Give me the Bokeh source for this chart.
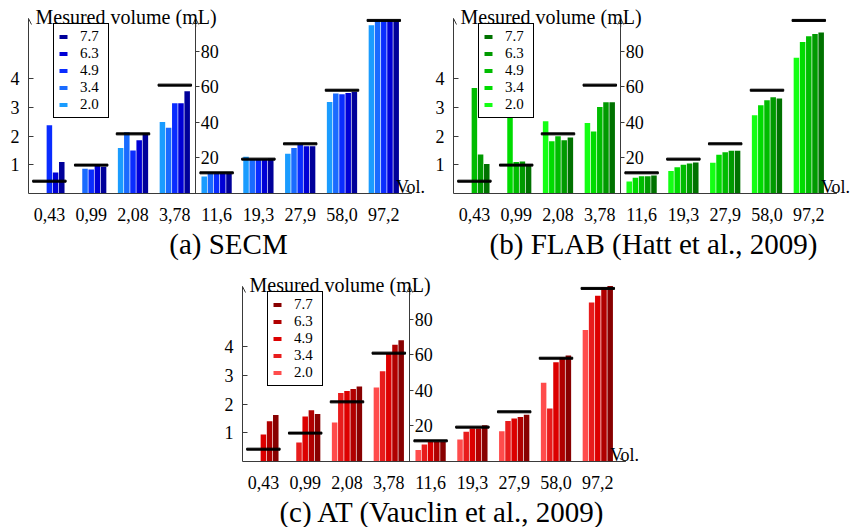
from bokeh.plotting import figure
from bokeh.models import (ColumnDataSource, Range1d, LinearAxis, FixedTicker, Legend,
                          LegendItem, Arrow, OpenHead, Label, Title, Spacer)
from bokeh.layouts import column, row
from bokeh.transform import dodge
from bokeh.embed import file_html
from bokeh.resources import INLINE

# ---------------- data ----------------
volumes = ["0,43", "0,99", "2,08", "3,78", "11,6", "19,3", "27,9", "58,0", "97,2"]
true_volume = [0.43, 0.99, 2.08, 3.78, 11.6, 19.3, 27.9, 58.0, 97.2]
contrasts = ["2.0", "3.4", "4.9", "6.3", "7.7"]
small_ticks = [1, 2, 3, 4]
large_ticks = [20, 40, 60, 80]

# (a) SECM, one list per contrast, values per sphere (mL)
secm_20 = [0.0, 0.0, 1.59, 2.49, 9.6, 20.7, 22.3, 51.4, 94.5]
secm_34 = [0.0, 0.86, 2.14, 2.29, 11.4, 18.9, 25.5, 56.1, 97.4]
secm_49 = [2.38, 0.84, 1.50, 3.15, 11.4, 18.9, 27.6, 55.7, 97.5]
secm_63 = [0.73, 1.02, 1.86, 3.15, 11.4, 18.9, 26.6, 56.4, 97.5]
secm_77 = [1.10, 0.93, 2.09, 3.57, 11.4, 19.6, 26.6, 57.2, 97.4]

# (b) FLAB
flab_20 = [0.0, 0.0, 2.52, 2.46, 6.7, 12.6, 17.2, 43.9, 76.3]
flab_34 = [0.0, 3.30, 1.82, 2.16, 8.8, 14.8, 21.7, 49.5, 85.1]
flab_49 = [3.68, 1.10, 2.00, 3.02, 9.7, 16.1, 23.2, 52.3, 88.3]
flab_63 = [1.36, 1.12, 1.86, 3.18, 9.7, 16.9, 24.0, 54.0, 89.6]
flab_77 = [1.03, 1.00, 1.95, 3.18, 10.1, 17.4, 24.0, 53.3, 90.4]

# (c) AT
at_20 = [0.0, 0.0, 1.36, 2.58, 6.4, 12.4, 17.0, 44.2, 73.8]
at_34 = [0.0, 0.66, 2.39, 3.15, 9.6, 16.7, 22.8, 29.7, 89.3]
at_49 = [0.94, 1.57, 2.46, 3.78, 11.1, 18.5, 24.1, 55.8, 93.1]
at_63 = [1.40, 1.79, 2.53, 4.07, 11.1, 18.5, 25.0, 58.4, 97.7]
at_77 = [1.62, 1.66, 2.62, 4.23, 11.1, 20.4, 26.3, 59.5, 98.6]

secm_colors = ["#1a9cff", "#1a6bff", "#0a2cff", "#0000d6", "#00009a"]
flab_colors = ["#14ff14", "#00dc00", "#00bc00", "#009a00", "#007200"]
at_colors = ["#ff4c4c", "#e81c1c", "#dc0000", "#b00000", "#880000"]

# ---------------- styling ----------------
FONT = "Liberation Serif"
AX = "#3a3a3a"
PX_X = 41.8      # px per sphere slot
PX_L = 28.67     # px per mL on the small scale
RATIO = 16.1     # large scale / small scale
FW, FH = 400, 185
TIP_PX = 10      # arrow tip distance below frame top


def style_axis(ax):
    ax.axis_line_color = AX
    ax.major_tick_line_color = AX
    ax.minor_tick_in = 0
    ax.minor_tick_out = 0
    ax.major_label_text_font = FONT
    ax.major_label_text_font_size = "18px"
    ax.major_label_text_color = "black"


def panel(series, colors, caption, left_border, right_border, top_border,
          bottom_border, cap_offset, cap_standoff):
    l_top = FH / PX_L
    tip_l = (FH - TIP_PX) / PX_L
    x_end = 0.5 + FW / PX_X
    p = figure(frame_width=FW, frame_height=FH,
               x_range=Range1d(0.5, x_end), y_range=Range1d(0, l_top),
               output_backend="svg", toolbar_location=None,
               x_axis_type=None, y_axis_type=None,
               min_border_left=left_border, min_border_right=right_border,
               min_border_top=top_border, min_border_bottom=bottom_border)
    p.extra_y_ranges = {"big": Range1d(0, l_top * RATIO)}
    p.outline_line_color = None
    p.background_fill_color = "white"

    idx = list(range(1, len(volumes) + 1))
    ns = len(small_ticks)
    offsets = [-0.296, -0.148, 0.0, 0.148, 0.296]
    left_r = []
    for k, (vals, col) in enumerate(zip(series, colors)):
        s_small = ColumnDataSource(dict(x=idx[:ns], v=vals[:ns]))
        s_big = ColumnDataSource(dict(x=idx[ns:], v=vals[ns:]))
        r = p.vbar(x=dodge("x", offsets[k]), top="v", width=0.132, source=s_small,
                   fill_color=col, line_color=None)
        p.vbar(x=dodge("x", offsets[k]), top="v", width=0.132, source=s_big,
               fill_color=col, line_color=None, y_range_name="big")
        left_r.append(r)

    p.rect(x=idx[:ns], y=true_volume[:ns], width=0.8, height=2, height_units="screen",
           color="black")
    p.rect(x=idx[ns:], y=true_volume[ns:], width=0.8, height=2, height_units="screen",
           color="black", y_range_name="big")

    xa = LinearAxis(ticker=FixedTicker(ticks=idx),
                    major_label_overrides={i: v for i, v in zip(idx, volumes)},
                    bounds=(0.5, 9.67), major_tick_in=0, major_tick_out=0,
                    major_label_standoff=14)
    style_axis(xa)
    p.add_layout(xa, "below")

    ya = LinearAxis(ticker=FixedTicker(ticks=small_ticks), bounds=(0, tip_l),
                    major_tick_in=5, major_tick_out=0, major_label_standoff=9)
    style_axis(ya)
    p.add_layout(ya, "left")

    ma = LinearAxis(y_range_name="big", fixed_location=4.5,
                    ticker=FixedTicker(ticks=large_ticks), bounds=(0, tip_l * RATIO),
                    major_tick_in=0, major_tick_out=4, major_label_standoff=1)
    style_axis(ma)
    p.add_layout(ma, "right")

    for xx in (0.5, 4.5):
        p.add_layout(Arrow(end=OpenHead(size=6, line_width=1, line_color=AX),
                           x_start=xx, y_start=tip_l - 0.3, x_end=xx, y_end=tip_l,
                           line_width=1, line_color=AX))
    p.add_layout(Arrow(end=OpenHead(size=6, line_width=1, line_color=AX),
                       x_start=9.4, y_start=0, x_end=9.67, y_end=0,
                       line_width=1, line_color=AX))

    p.add_layout(Label(x=0.5, y=(FH - 8) / PX_L, x_offset=7, text="Mesured volume (mL)",
                       text_font=FONT, text_font_size="20px", text_baseline="middle",
                       text_color="black"))
    p.add_layout(Label(x=9.29, y=7 / PX_L, text="Vol.", text_font=FONT,
                       text_font_size="18px", text_baseline="alphabetic",
                       text_color="black"))

    items = [LegendItem(label=c, renderers=[r]) for c, r in zip(contrasts, left_r)][::-1]
    lg = Legend(items=items, location=(25, 75), border_line_color="black",
                border_line_alpha=1.0, border_line_width=1.2,
                background_fill_color="white", background_fill_alpha=1.0,
                padding=4, margin=0, spacing=0, glyph_width=10, glyph_height=5,
                label_standoff=12, label_text_font=FONT, label_text_color="black",
                label_text_font_size="15px", label_height=10, label_width=24)
    p.add_layout(lg)

    p.add_layout(Title(text=caption, align="center", offset=cap_offset,
                       standoff=cap_standoff, text_font=FONT, text_font_size="29px",
                       text_font_style="normal", text_color="black"), "below")
    return p


pa = panel([secm_20, secm_34, secm_49, secm_63, secm_77], secm_colors,
           "(a) SECM", 28, 4, 8, 75, -8, 4)
pb = panel([flab_20, flab_34, flab_49, flab_63, flab_77], flab_colors,
           "(b) FLAB (Hatt et al., 2009)", 20, 2, 8, 75, 5, 4)
pc = panel([at_20, at_34, at_49, at_63, at_77], at_colors,
           "(c) AT (Vauclin et al., 2009)", 20, 4, 8, 66, -8, 4)

layout = column(row(pa, pb), row(Spacer(width=221), pc))
open("out.html", "w").write(file_html(layout, INLINE))
